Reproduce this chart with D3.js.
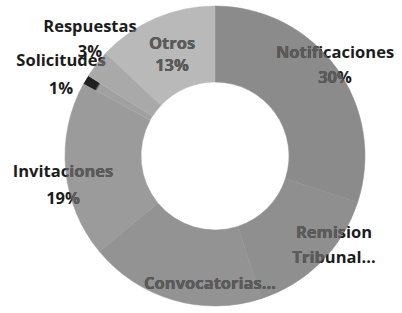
<!DOCTYPE html>
<html><head><meta charset="utf-8">
<script src="https://cdn.jsdelivr.net/npm/d3@7"></script>
<style>
html,body{margin:0;padding:0;background:#fff;}
svg{display:block;}
text{font-family:"Open Sans",sans-serif;font-weight:700;}
</style></head>
<body>
<script>
// Data
const categories = ["Notificaciones","Remision Tribunal...","Convocatorias...","Invitaciones","Solicitudes","Respuestas","Otros"];
const values = [30, 15, 19, 19, 1, 3, 13];
const labelLines = [["Notificaciones","30%"],["Remision","Tribunal..."],["Convocatorias..."],["Invitaciones","19%"],["Solicitudes","1%"],["Respuestas","3%"],["Otros","13%"]];

// Styles / layout
const colors = ["#8b8b8b","#8f8f8f","#939393","#9b9b9b","url(#solGrad)","#a9a9a9","#b9b9b9"];
const labelPos = [[335,58],[334,238],[210,289],[63,177],[61,66],[90,32],[172,49]];
const lineGap = [25,25,25,27,28,25,22];

const W=402,H=313, cx=215, cy=156, rOut=150, rIn=74;
const svg = d3.select("body").append("svg").attr("width",W).attr("height",H);
const defs = svg.append("defs");
const g1 = defs.append("radialGradient").attr("id","solGrad").attr("gradientUnits","userSpaceOnUse")
  .attr("cx",0).attr("cy",0).attr("r",rOut);
g1.append("stop").attr("offset","0.90").attr("stop-color","#a0a0a0");
g1.append("stop").attr("offset","0.915").attr("stop-color","#202020");
g1.append("stop").attr("offset","1").attr("stop-color","#202020");

const pie = d3.pie().sort(null).value(d=>d).startAngle(0).endAngle(2*Math.PI);
const arc = d3.arc().innerRadius(rIn).outerRadius(rOut);
const arcs = pie(values);

const chart = svg.append("g").attr("transform",`translate(${cx},${cy})`);
chart.selectAll("path").data(arcs).join("path")
  .attr("d",arc).attr("fill",(d,i)=>colors[i]).attr("stroke",(d,i)=>i===4?"none":colors[i]).attr("stroke-width",0.5);

// ring clip for label shading
defs.append("clipPath").attr("id","ringClip").append("path")
  .attr("transform",`translate(${cx},${cy})`)
  .attr("d", d3.arc().innerRadius(rIn).outerRadius(rOut)({startAngle:0,endAngle:2*Math.PI}));

function drawLabels(layer, color){
  const lg = layer.selectAll("text").data(arcs).join("text")
    .attr("text-anchor","middle").attr("font-size",16.5).attr("fill",color)
    .attr("x",(d,i)=>labelPos[i][0]).attr("y",(d,i)=>labelPos[i][1]);
  lg.each(function(d,i){
    const t=d3.select(this);
    labelLines[i].forEach((s,j)=>{
      t.append("tspan").attr("x",labelPos[i][0]).attr("dy", j===0?0:lineGap[i]).text(s);
    });
  });
}
drawLabels(svg.append("g"), "#1c1c1c");
drawLabels(svg.append("g").attr("clip-path","url(#ringClip)"), "#5c5c5c");
</script>
</body></html>
